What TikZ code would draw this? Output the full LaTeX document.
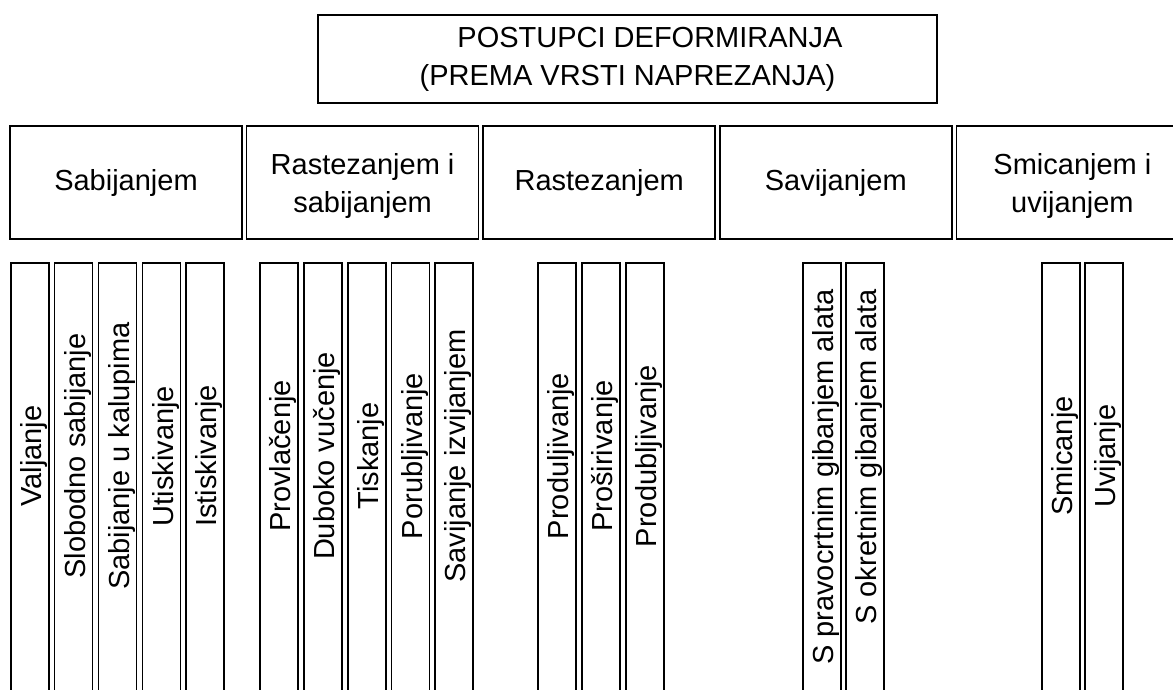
\documentclass[tikz,border=0pt]{standalone}
\usepackage{fontspec}
\setmainfont{Liberation Sans}
\usetikzlibrary{positioning}
\tikzset{box/.style={draw, line width=1.6pt, inner sep=0pt},
  headbox/.style={box, minimum width=619pt, minimum height=88pt, align=center},
  groupbox/.style={box, minimum width=232pt, minimum height=113pt, align=center},
  bar/.style={line width=1.6pt},
  lbl/.style={rotate=90, anchor=south, inner sep=0pt}}
\newcommand{\toprow}{\rule{0pt}{29pt}}

\begin{document}
\begin{tikzpicture}[x=1pt,y=-1pt,font=\fontsize{29}{38}\selectfont]
\useasboundingbox (0,0) rectangle (1173,689);
\clip (0,0) rectangle (1173,689);
\node[headbox] (title) at (627.5,59) {\hspace*{45pt}POSTUPCI DEFORMIRANJA\\(PREMA VRSTI NAPREZANJA)};
\node[groupbox] (c1) at (126,182.5) {Sabijanjem};
\node[groupbox, right=3pt of c1] (c2) {\toprow Rastezanjem i\\sabijanjem};
\node[groupbox, right=3pt of c2] (c3) {Rastezanjem};
\node[groupbox, right=3pt of c3] (c4) {Savijanjem};
\node[groupbox, right=3pt of c4] (c5) {\toprow Smicanjem i\\uvijanjem};
\foreach \x/\y/\t [count=\i] in {11/456/Valjanje, 54.5/456/Slobodno sabijanje,
  98.5/456/Sabijanje u kalupima, 142.5/456/Utiskivanje, 186/456/Istiskivanje,
  260/456/Provlačenje, 304/456/Duboko vučenje, 348/456/Tiskanje,
  391.5/456/Porubljivanje, 435/456/Savijanje izvijanjem,
  538/456/Produljivanje, 582/456/Proširivanje, 626/456/Produbljivanje,
  803/477/S pravocrtnim gibanjem alata, 846/457/S okretnim gibanjem alata,
  1042/456/Smicanje, 1085/456/Uvijanje}{
  \draw[bar] (\x,720) |- (\x+38,263) -- (\x+38,720);
  \node[lbl] (p\i) at (\x+37,\y) {\t};
}
\end{tikzpicture}
\end{document}
